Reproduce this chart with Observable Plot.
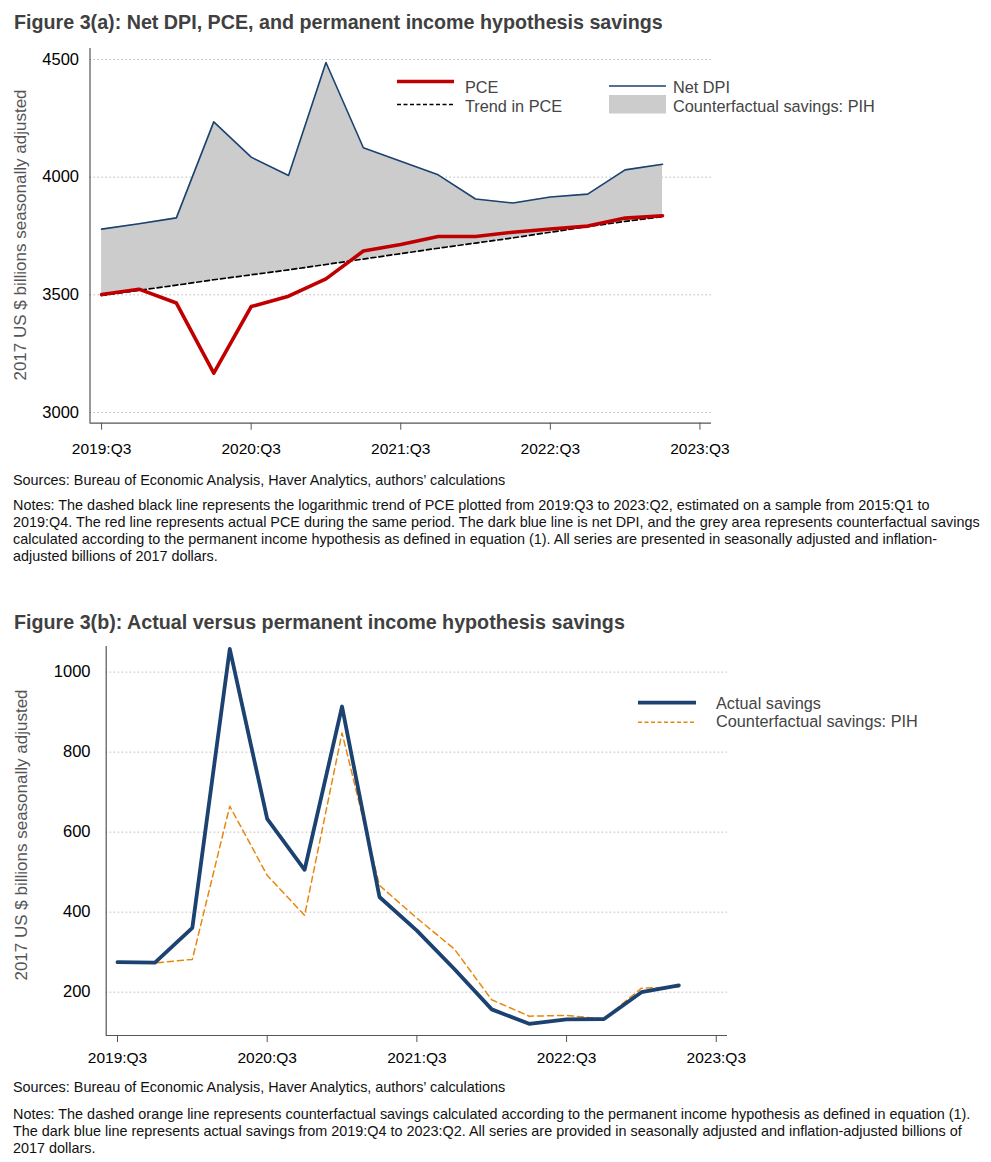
<!DOCTYPE html>
<html>
<head>
<meta charset="utf-8">
<script src="https://cdn.jsdelivr.net/npm/d3@7"></script>
<script src="https://cdn.jsdelivr.net/npm/@observablehq/plot@0.6"></script>
<style>
  html, body { margin: 0; padding: 0; background: #fff; }
  #page { position: relative; width: 991px; height: 1162px; overflow: hidden; font-family: "Liberation Sans", Arial, Helvetica, sans-serif; }
  .abs { position: absolute; white-space: nowrap; }
  .title { font-weight: bold; font-size: 19.7px; color: #404040; line-height: 22px; }
  .ylab { font-size: 17px; color: #555; transform-origin: center center; transform: translate(-50%, -50%) rotate(-90deg); line-height: 18px; }
  .src { font-size: 14.4px; color: #111; line-height: 18px; }
  .notes { font-size: 14.4px; color: #111; line-height: 17px; }
  svg { overflow: visible; }
</style>
</head>
<body>
<div id="page">
  <div class="abs title" style="left:14px; top:11px;">Figure 3(a): Net DPI, PCE, and permanent income hypothesis savings</div>
  <div id="chartA" class="abs" style="left:0; top:40px;"></div>
  <div class="abs ylab" style="left:21px; top:235px;">2017 US $ billions seasonally adjusted</div>
  <div id="legA" class="abs" style="left:0; top:0;"></div>
  <div class="abs src" style="left:13px; top:471px;">Sources: Bureau of Economic Analysis, Haver Analytics, authors’ calculations</div>
  <div class="abs notes" style="left:13px; top:497px;">Notes: The dashed black line represents the logarithmic trend of PCE plotted from 2019:Q3 to 2023:Q2, estimated on a sample from 2015:Q1 to<br>2019:Q4. The red line represents actual PCE during the same period. The dark blue line is net DPI, and the grey area represents counterfactual savings<br>calculated according to the permanent income hypothesis as defined in equation (1). All series are presented in seasonally adjusted and inflation-<br>adjusted billions of 2017 dollars.</div>

  <div class="abs title" style="left:14px; top:610.5px;">Figure 3(b): Actual versus permanent income hypothesis savings</div>
  <div id="chartB" class="abs" style="left:0; top:640px;"></div>
  <div class="abs ylab" style="left:22px; top:835px;">2017 US $ billions seasonally adjusted</div>
  <div id="legB" class="abs" style="left:0; top:0;"></div>
  <div class="abs src" style="left:13px; top:1077.5px;">Sources: Bureau of Economic Analysis, Haver Analytics, authors’ calculations</div>
  <div class="abs notes" style="left:13px; top:1106px;">Notes: The dashed orange line represents counterfactual savings calculated according to the permanent income hypothesis as defined in equation (1).<br>The dark blue line represents actual savings from 2019:Q4 to 2023:Q2. All series are provided in seasonally adjusted and inflation-adjusted billions of<br>2017 dollars.</div>
</div>
<script>
// ---------- Data ----------
const quarters = ["2019:Q3","2019:Q4","2020:Q1","2020:Q2","2020:Q3","2020:Q4","2021:Q1","2021:Q2",
                  "2021:Q3","2021:Q4","2022:Q1","2022:Q2","2022:Q3","2022:Q4","2023:Q1","2023:Q2"];
const netDPI   = [3779,3802,3827,4235,4085,4007,4487,4125,4068,4010,3907,3890,3916,3928,4031,4055];
const pce      = [3501,3524,3465,3167,3450,3494,3568,3686,3714,3748,3748,3766,3780,3792,3826,3836];
const trendPCE = [3497,3519,3541,3564,3585,3606,3629,3652,3675,3698,3720,3742,3766,3790,3812,3832];
const actualSavings = [275,274,361,1058,633,506,914,438,354,258,157,121,132,133,200,217];
const pihSavings    = [273,273,282,665,492,392,848,467,385,308,181,140,142,133,210,213];
const xTickLabels = ["2019:Q3","2020:Q3","2021:Q3","2022:Q3","2023:Q3"];
const yTicksA = [3000,3500,4000,4500];
const yTicksB = [200,400,600,800,1000];

// quarter label -> index relative to 2019:Q3
const qIndex = s => { const [y, q] = s.split(":Q"); return (+y - 2019) * 4 + (+q - 3); };
const xTickPos = xTickLabels.map(qIndex);
const labelOf = new Map(xTickLabels.map(l => [qIndex(l), l]));

const rowsA = quarters.map((q, i) => ({i: qIndex(q), dpi: netDPI[i], pce: pce[i], trend: trendPCE[i]}));
const rowsB = quarters.map((q, i) => ({i: qIndex(q), actual: actualSavings[i], pih: pihSavings[i]}));

const font = '"Liberation Sans", Arial, Helvetica, sans-serif';
const axisColor = "#555";
const navy = "#1b4271";
const red = "#c00000";
const orange = "#e8870e";
const plain = d => String(d);

// ---------- Chart A ----------
const xDomA = [-0.31, 16.31];
const yDomA = [2954.5, 4546.7];
const chartA = Plot.plot({
  width: 991, height: 430,
  marginLeft: 89.5, marginRight: 280, marginTop: 8, marginBottom: 47.3,
  x: {domain: xDomA},
  y: {domain: yDomA},
  style: {fontFamily: font, fontSize: "15.5px", color: "#000", background: "transparent"},
  marks: [
    Plot.gridY(yTicksA, {stroke: "#b8b8b8", strokeOpacity: 1, strokeDasharray: "1.5,2.5", strokeWidth: 1}),
    Plot.areaY(rowsA, {x: "i", y1: "trend", y2: "dpi", fill: "#cccccc"}),
    Plot.lineY(rowsA, {x: "i", y: "dpi", stroke: navy, strokeWidth: 1.6}),
    Plot.lineY(rowsA, {x: "i", y: "trend", stroke: "#000", strokeWidth: 1.7, strokeDasharray: "5,3"}),
    Plot.lineY(rowsA, {x: "i", y: "pce", stroke: red, strokeWidth: 3.6}),
    Plot.ruleX([xDomA[0]], {stroke: axisColor, strokeWidth: 1.2}),
    Plot.ruleY([yDomA[0]], {stroke: axisColor, strokeWidth: 1.2}),
    Plot.axisY(yTicksA, {tickSize: 0, tickPadding: 11, fontSize: 16.5, tickFormat: plain, label: null}),
    Plot.axisX(xTickPos, {tickSize: 7, tickPadding: 13, stroke: axisColor, tickFormat: d => labelOf.get(d), label: null, fontSize: 15.5})
  ]
});
document.getElementById("chartA").appendChild(chartA);

// ---------- Chart B ----------
const xDomB = [-0.302, 16.30];
const yDomB = [91.75, 1064];
const chartB = Plot.plot({
  width: 991, height: 440,
  marginLeft: 105.7, marginRight: 264, marginTop: 6, marginBottom: 45,
  x: {domain: xDomB},
  y: {domain: yDomB},
  style: {fontFamily: font, fontSize: "15.5px", color: "#000", background: "transparent"},
  marks: [
    Plot.gridY(yTicksB, {stroke: "#b8b8b8", strokeOpacity: 1, strokeDasharray: "1.5,2.5", strokeWidth: 1}),
    Plot.lineY(rowsB, {x: "i", y: "pih", stroke: orange, strokeWidth: 1.5, strokeDasharray: "6,4"}),
    Plot.lineY(rowsB, {x: "i", y: "actual", stroke: navy, strokeWidth: 3.8}),
    Plot.ruleX([xDomB[0]], {stroke: axisColor, strokeWidth: 1.2}),
    Plot.ruleY([yDomB[0]], {stroke: axisColor, strokeWidth: 1.2}),
    Plot.axisY(yTicksB, {tickSize: 0, tickPadding: 15.7, fontSize: 16.5, tickFormat: plain, label: null}),
    Plot.axisX(xTickPos, {tickSize: 7, tickPadding: 9.7, stroke: axisColor, tickFormat: d => labelOf.get(d), label: null, fontSize: 15.5})
  ]
});
document.getElementById("chartB").appendChild(chartB);

// ---------- Legends (SVG overlay) ----------
function legend(containerId, items) {
  const svg = d3.select("#" + containerId).append("svg")
    .attr("width", 991).attr("height", 1162)
    .style("position", "absolute").style("left", 0).style("top", 0).style("pointer-events", "none");
  for (const it of items) {
    if (it.type === "line") {
      svg.append("line").attr("x1", it.x1).attr("x2", it.x2).attr("y1", it.y).attr("y2", it.y)
        .attr("stroke", it.color).attr("stroke-width", it.w).attr("stroke-dasharray", it.dash || null);
    } else if (it.type === "box") {
      svg.append("rect").attr("x", it.x1).attr("y", it.y1).attr("width", it.x2 - it.x1).attr("height", it.y2 - it.y1)
        .attr("fill", it.color);
    } else {
      svg.append("text").attr("x", it.x).attr("y", it.y).attr("dy", "0.35em")
        .attr("font-family", font).attr("font-size", 16.3).attr("fill", "#444").text(it.text);
    }
  }
}
legend("legA", [
  {type: "line", x1: 397, x2: 454, y: 81.5, color: red, w: 3.6},
  {type: "text", x: 465, y: 87, text: "PCE"},
  {type: "line", x1: 397, x2: 454, y: 104.5, color: "#000", w: 1.5, dash: "4,2.5"},
  {type: "text", x: 465, y: 106, text: "Trend in PCE"},
  {type: "line", x1: 609, x2: 666, y: 86, color: navy, w: 1.6},
  {type: "text", x: 673, y: 87, text: "Net DPI"},
  {type: "box", x1: 609, x2: 666, y1: 95, y2: 113.5, color: "#cccccc"},
  {type: "text", x: 673, y: 106, text: "Counterfactual savings: PIH"}
]);
legend("legB", [
  {type: "line", x1: 638, x2: 696, y: 702.7, color: navy, w: 3.8},
  {type: "text", x: 716, y: 703, text: "Actual savings"},
  {type: "line", x1: 638, x2: 696, y: 722.3, color: orange, w: 1.5, dash: "4,2.5"},
  {type: "text", x: 716, y: 721.7, text: "Counterfactual savings: PIH"}
]);
</script>
</body>
</html>
